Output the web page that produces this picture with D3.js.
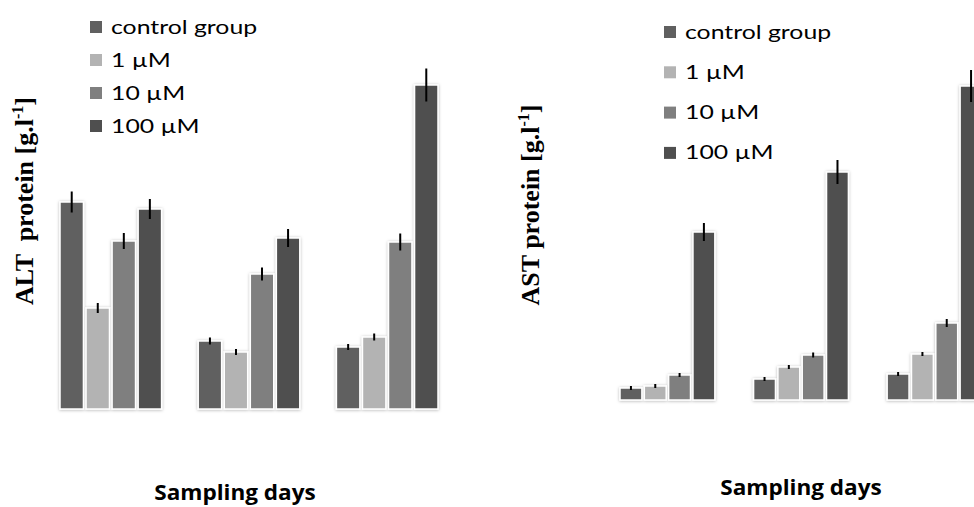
<!DOCTYPE html>
<html>
<head>
<meta charset="utf-8">
<script src="https://cdn.jsdelivr.net/npm/d3@7"></script>
<style>
  html, body { margin: 0; padding: 0; background: #fff; }
  svg { display: block; }
  text { white-space: pre; }
</style>
</head>
<body>
<svg id="chart" width="974" height="507"></svg>
<script>
// Sampling days (no tick labels are drawn for them)
const days = ["day 1", "day 2", "day 3"];
const treatments = ["control group", "1 \u00b5M", "10 \u00b5M", "100 \u00b5M"];

// ALT protein, mean per treatment across the sampling days
const altControl = [20.7, 6.8, 6.2];
const alt1uM     = [10.1, 5.7, 7.2];
const alt10uM    = [16.8, 13.5, 16.7];
const alt100uM   = [20.0, 17.1, 32.4];
// ALT standard error
const altControlErr = [1.05, 0.35, 0.30];
const alt1uMErr     = [0.50, 0.30, 0.35];
const alt10uMErr    = [0.80, 0.65, 0.85];
const alt100uMErr   = [1.00, 0.90, 1.65];

// AST protein, mean per treatment across the sampling days
const astControl = [1.2, 2.1, 2.6];
const ast1uM     = [1.4, 3.3, 4.6];
const ast10uM    = [2.5, 4.5, 7.7];
const ast100uM   = [16.8, 22.8, 31.4];
// AST standard error
const astControlErr = [0.20, 0.20, 0.20];
const ast1uMErr     = [0.20, 0.20, 0.20];
const ast10uMErr    = [0.20, 0.25, 0.40];
const ast100uMErr   = [0.90, 1.20, 1.60];

const colors = ["#606060", "#b3b3b3", "#7f7f7f", "#4f4f4f"];

const svg = d3.select("#chart");

// soft halo around each group of bars
const defs = svg.append("defs");
const f = defs.append("filter").attr("id", "halo")
  .attr("x", "-20%").attr("y", "-20%").attr("width", "140%").attr("height", "140%");
f.append("feDropShadow").attr("dx", 0).attr("dy", 0.5)
  .attr("stdDeviation", 1.6).attr("flood-color", "#000").attr("flood-opacity", 0.3);

function buildRows(series, errors) {
  return days.map((d, i) => ({
    day: d,
    bars: treatments.map((t, j) => ({ t, j, v: series[j][i], e: errors[j][i] }))
  }));
}

function drawPanel(p) {
  const g = svg.append("g");
  const x0 = d3.scaleBand().domain(days).range(p.xRange).paddingInner(p.groupPad);
  const x1 = d3.scaleBand().domain(treatments).range([0, x0.bandwidth()]).paddingInner(0.1);
  const y = d3.scaleLinear().domain([0, 35]).range(p.yRange);

  const rows = buildRows(p.series, p.errors);
  const grp = g.selectAll("g.day").data(rows).join("g")
    .attr("class", "day")
    .attr("transform", d => `translate(${x0(d.day)},0)`);

  grp.append("g").attr("filter", "url(#halo)")
    .selectAll("rect").data(d => d.bars).join("rect")
    .attr("x", d => x1(d.t))
    .attr("y", d => y(d.v))
    .attr("width", x1.bandwidth())
    .attr("height", d => y(0) - y(d.v))
    .attr("fill", d => colors[d.j])
    .attr("stroke", "#fff")
    .attr("stroke-width", 1.5);

  grp.selectAll("line.err").data(d => d.bars).join("line")
    .attr("class", "err")
    .attr("x1", d => x1(d.t) + x1.bandwidth() / 2)
    .attr("x2", d => x1(d.t) + x1.bandwidth() / 2)
    .attr("y1", d => y(d.v + d.e))
    .attr("y2", d => y(d.v - d.e))
    .attr("stroke", "#000")
    .attr("stroke-width", 2);

  // legend
  const lg = g.append("g").attr("transform", `translate(${p.legend[0]},${p.legend[1]})`);
  const item = lg.selectAll("g").data(treatments).join("g")
    .attr("transform", (d, i) => `translate(0,${i * p.legendStep})`);
  item.append("rect").attr("x", 0).attr("y", -6).attr("width", 12).attr("height", 12)
    .attr("fill", (d, i) => colors[i]);
  item.append("text")
    .attr("transform", "translate(21,6.5) scale(1.24,1)")
    .attr("font-family", "Lato, 'Open Sans', sans-serif")
    .attr("font-size", 20)
    .attr("fill", "#000")
    .text(d => d);

  // y title
  const yt = g.append("text")
    .attr("transform", `translate(${p.yTitle[0]},${p.yTitle[1]}) rotate(-90)`)
    .attr("text-anchor", "middle")
    .attr("font-family", "'Liberation Serif', 'Times New Roman', serif")
    .attr("font-weight", "bold")
    .attr("font-size", 26)
    .attr("fill", "#000");
  yt.append("tspan").text(p.yLabel);
  yt.append("tspan").attr("dy", -10).attr("font-size", 16).text("-1");
  yt.append("tspan").attr("dy", 10).text("]");

  // x title
  g.append("text")
    .attr("transform", `translate(${p.xTitle[0]},${p.xTitle[1]}) scale(1.1,1)`)
    .attr("text-anchor", "middle")
    .attr("font-family", "'Open Sans', sans-serif")
    .attr("font-weight", "bold")
    .attr("font-size", 20.5)
    .attr("fill", "#000")
    .text("Sampling days");
}

drawPanel({
  xRange: [60, 438], groupPad: 0.265, yRange: [409, 59],
  series: [altControl, alt1uM, alt10uM, alt100uM],
  errors: [altControlErr, alt1uMErr, alt10uMErr, alt100uMErr],
  legend: [90, 27], legendStep: 33,
  yTitle: [33, 201], yLabel: "ALT  protein [g.l",
  xTitle: [235, 500]
});

drawPanel({
  xRange: [620, 982], groupPad: 0.29, yRange: [400, 50],
  series: [astControl, ast1uM, ast10uM, ast100uM],
  errors: [astControlErr, ast1uMErr, ast10uMErr, ast100uMErr],
  legend: [664, 32], legendStep: 40.3,
  yTitle: [539, 205], yLabel: "AST protein [g.l",
  xTitle: [801, 495]
});
</script>
</body>
</html>
